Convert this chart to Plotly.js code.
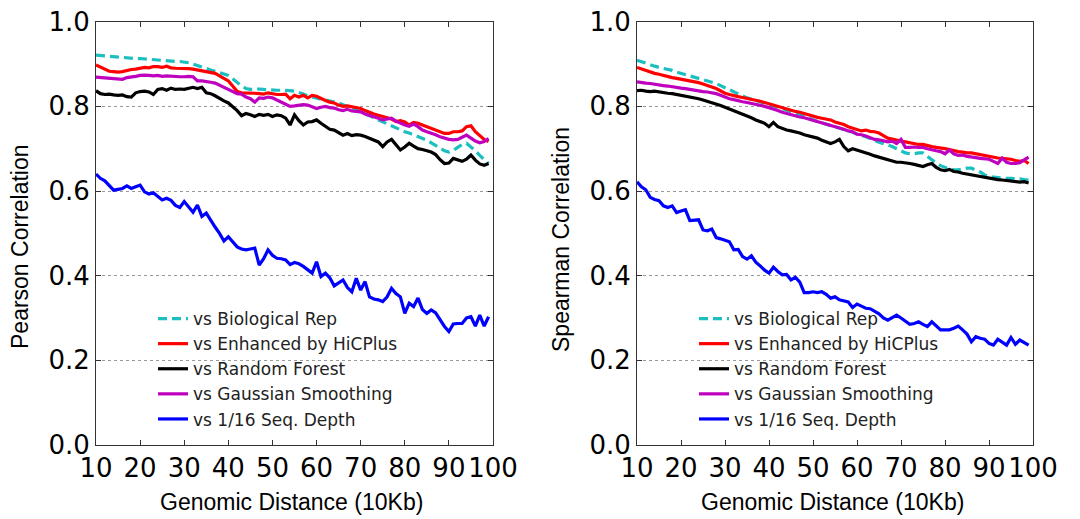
<!DOCTYPE html>
<html>
<head>
<meta charset="utf-8">
<script src="https://cdn.plot.ly/plotly-3.0.1.min.js"></script>
<style>
html,body{margin:0;padding:0;background:#fff;}
#chart{width:1080px;height:519px;}
</style>
</head>
<body>
<div id="chart"></div>
<script>
const distance = [10,11,12,13,14,15,16,17,18,19,20,21,22,23,24,25,26,27,28,29,30,31,32,33,34,35,36,37,38,39,40,41,42,43,44,45,46,47,48,49,50,51,52,53,54,55,56,57,58,59,60,61,62,63,64,65,66,67,68,69,70,71,72,73,74,75,76,77,78,79,80,81,82,83,84,85,86,87,88,89,90,91,92,93,94,95,96,97,98,99];

const seriesNames = ["vs Biological Rep","vs Enhanced by HiCPlus","vs Random Forest","vs Gaussian Smoothing","vs 1/16 Seq. Depth"];

// Pearson correlation (left panel)
const pearsonBio = [0.921,0.920,0.919,0.918,0.917,0.916,0.915,0.914,0.913,0.913,0.913,0.912,0.911,0.910,0.909,0.908,0.908,0.907,0.906,0.906,0.905,0.903,0.900,0.896,0.893,0.890,0.886,0.883,0.880,0.877,0.873,0.865,0.856,0.848,0.842,0.840,0.840,0.841,0.840,0.839,0.839,0.838,0.838,0.838,0.837,0.836,0.833,0.829,0.825,0.822,0.819,0.817,0.815,0.813,0.811,0.808,0.804,0.800,0.796,0.791,0.787,0.783,0.778,0.773,0.768,0.764,0.760,0.755,0.750,0.745,0.740,0.737,0.733,0.729,0.725,0.720,0.714,0.708,0.702,0.695,0.692,0.696,0.703,0.710,0.713,0.705,0.695,0.684,0.674,0.665];
const pearsonHiCPlus = [0.898,0.893,0.887,0.883,0.882,0.881,0.882,0.885,0.887,0.888,0.890,0.892,0.891,0.894,0.894,0.892,0.895,0.891,0.890,0.890,0.889,0.889,0.888,0.886,0.884,0.882,0.881,0.878,0.872,0.866,0.860,0.848,0.835,0.832,0.832,0.831,0.831,0.830,0.829,0.832,0.830,0.828,0.828,0.829,0.818,0.826,0.822,0.826,0.820,0.826,0.824,0.818,0.814,0.810,0.808,0.803,0.800,0.801,0.799,0.796,0.795,0.790,0.785,0.782,0.779,0.776,0.772,0.770,0.764,0.766,0.763,0.756,0.762,0.760,0.756,0.752,0.748,0.745,0.741,0.736,0.736,0.740,0.740,0.742,0.752,0.754,0.740,0.730,0.722,0.717];
const pearsonRF = [0.837,0.830,0.828,0.829,0.827,0.826,0.827,0.823,0.822,0.832,0.835,0.836,0.834,0.828,0.840,0.842,0.838,0.843,0.840,0.841,0.840,0.843,0.845,0.842,0.845,0.832,0.830,0.825,0.818,0.813,0.808,0.800,0.790,0.778,0.783,0.780,0.776,0.781,0.779,0.781,0.776,0.780,0.778,0.772,0.756,0.780,0.766,0.756,0.763,0.764,0.768,0.760,0.752,0.746,0.744,0.738,0.732,0.736,0.731,0.733,0.732,0.729,0.724,0.720,0.716,0.705,0.716,0.722,0.708,0.697,0.704,0.713,0.706,0.700,0.698,0.695,0.692,0.686,0.674,0.665,0.666,0.677,0.673,0.670,0.675,0.685,0.673,0.664,0.661,0.665];
const pearsonGauss = [0.869,0.868,0.868,0.867,0.866,0.865,0.864,0.868,0.869,0.871,0.873,0.874,0.873,0.872,0.873,0.871,0.872,0.871,0.871,0.870,0.870,0.871,0.870,0.860,0.860,0.859,0.857,0.855,0.850,0.845,0.840,0.836,0.830,0.829,0.822,0.818,0.810,0.820,0.819,0.822,0.820,0.815,0.810,0.804,0.800,0.801,0.802,0.804,0.803,0.799,0.795,0.798,0.800,0.797,0.796,0.792,0.790,0.793,0.789,0.788,0.787,0.782,0.779,0.776,0.772,0.768,0.770,0.772,0.765,0.760,0.756,0.753,0.758,0.752,0.744,0.740,0.737,0.733,0.728,0.725,0.722,0.721,0.722,0.727,0.732,0.725,0.718,0.714,0.717,0.724];
const pearsonLow = [0.640,0.630,0.624,0.612,0.602,0.604,0.606,0.612,0.606,0.610,0.614,0.598,0.593,0.596,0.588,0.579,0.583,0.578,0.566,0.561,0.575,0.562,0.550,0.567,0.540,0.548,0.530,0.515,0.500,0.482,0.492,0.480,0.468,0.463,0.461,0.463,0.465,0.425,0.440,0.461,0.448,0.441,0.440,0.437,0.426,0.431,0.428,0.422,0.414,0.406,0.433,0.398,0.406,0.395,0.376,0.383,0.390,0.372,0.362,0.394,0.366,0.386,0.350,0.345,0.343,0.339,0.350,0.370,0.358,0.350,0.311,0.335,0.327,0.347,0.320,0.311,0.319,0.312,0.295,0.280,0.268,0.286,0.287,0.287,0.300,0.303,0.281,0.307,0.281,0.303];

// Spearman correlation (right panel)
const spearmanBio = [0.909,0.905,0.901,0.898,0.895,0.892,0.890,0.887,0.885,0.881,0.878,0.876,0.873,0.870,0.867,0.864,0.861,0.858,0.854,0.849,0.844,0.839,0.834,0.829,0.824,0.820,0.817,0.814,0.810,0.807,0.804,0.801,0.798,0.795,0.791,0.788,0.785,0.781,0.777,0.772,0.768,0.764,0.761,0.758,0.755,0.751,0.748,0.745,0.742,0.739,0.735,0.732,0.728,0.724,0.719,0.715,0.712,0.709,0.705,0.700,0.694,0.690,0.688,0.688,0.690,0.690,0.682,0.673,0.666,0.660,0.656,0.652,0.650,0.650,0.652,0.654,0.654,0.650,0.645,0.638,0.634,0.633,0.632,0.630,0.630,0.630,0.630,0.629,0.627,0.626];
const spearmanHiCPlus = [0.892,0.888,0.884,0.880,0.878,0.876,0.873,0.870,0.868,0.866,0.864,0.862,0.860,0.859,0.856,0.853,0.850,0.846,0.842,0.836,0.831,0.828,0.825,0.823,0.821,0.819,0.817,0.815,0.812,0.809,0.806,0.803,0.800,0.796,0.793,0.790,0.788,0.786,0.783,0.779,0.776,0.774,0.772,0.770,0.768,0.763,0.760,0.757,0.752,0.748,0.745,0.742,0.744,0.741,0.740,0.737,0.731,0.725,0.723,0.720,0.718,0.716,0.714,0.712,0.710,0.710,0.707,0.705,0.703,0.702,0.700,0.698,0.695,0.693,0.692,0.690,0.690,0.688,0.685,0.683,0.681,0.680,0.678,0.677,0.676,0.675,0.672,0.670,0.672,0.665];
const spearmanRF = [0.837,0.838,0.836,0.835,0.836,0.834,0.833,0.831,0.830,0.828,0.826,0.825,0.822,0.820,0.818,0.815,0.812,0.809,0.806,0.802,0.798,0.794,0.790,0.786,0.781,0.777,0.773,0.768,0.764,0.760,0.752,0.762,0.752,0.747,0.744,0.742,0.740,0.737,0.733,0.730,0.728,0.725,0.720,0.715,0.712,0.716,0.722,0.705,0.695,0.700,0.697,0.694,0.690,0.687,0.683,0.680,0.677,0.674,0.670,0.668,0.668,0.667,0.665,0.663,0.660,0.658,0.662,0.665,0.656,0.650,0.648,0.651,0.646,0.645,0.642,0.640,0.638,0.636,0.634,0.632,0.630,0.629,0.627,0.626,0.625,0.623,0.622,0.621,0.622,0.619];
const spearmanGauss = [0.858,0.856,0.855,0.854,0.852,0.851,0.849,0.848,0.846,0.844,0.843,0.842,0.840,0.838,0.837,0.835,0.834,0.832,0.830,0.826,0.821,0.818,0.816,0.813,0.811,0.809,0.807,0.805,0.802,0.800,0.797,0.794,0.790,0.786,0.783,0.780,0.777,0.775,0.773,0.770,0.768,0.765,0.762,0.759,0.756,0.753,0.750,0.746,0.742,0.740,0.734,0.733,0.730,0.726,0.722,0.721,0.718,0.716,0.718,0.712,0.722,0.703,0.703,0.704,0.703,0.703,0.700,0.697,0.695,0.693,0.688,0.697,0.688,0.684,0.685,0.682,0.681,0.679,0.677,0.676,0.675,0.670,0.665,0.678,0.668,0.665,0.665,0.667,0.673,0.680];
const spearmanLow = [0.622,0.610,0.603,0.585,0.580,0.577,0.565,0.561,0.565,0.549,0.553,0.556,0.530,0.531,0.532,0.508,0.506,0.510,0.490,0.487,0.484,0.480,0.461,0.462,0.445,0.439,0.447,0.432,0.423,0.413,0.406,0.420,0.410,0.402,0.403,0.390,0.396,0.385,0.360,0.360,0.362,0.360,0.362,0.356,0.347,0.350,0.343,0.341,0.338,0.325,0.333,0.328,0.323,0.322,0.315,0.310,0.300,0.295,0.301,0.307,0.300,0.293,0.285,0.287,0.291,0.285,0.280,0.291,0.281,0.272,0.272,0.272,0.276,0.281,0.272,0.262,0.244,0.256,0.252,0.250,0.240,0.236,0.250,0.242,0.236,0.254,0.238,0.248,0.242,0.236];

const xTicks = [10,20,30,40,50,60,70,80,90,100];
const yTicks = [0.0,0.2,0.4,0.6,0.8,1.0];
const xTitle = "Genomic Distance (10Kb)";
const yTitleLeft = "Pearson Correlation";
const yTitleRight = "Spearman Correlation";

const styles = [
  {color:"#1CBFBF", dash:"9px,5px"},
  {color:"#FF0000", dash:"solid"},
  {color:"#000000", dash:"solid"},
  {color:"#BF00BF", dash:"solid"},
  {color:"#0000FF", dash:"solid"}
];

const leftSeries = [pearsonBio, pearsonHiCPlus, pearsonRF, pearsonGauss, pearsonLow];
const rightSeries = [spearmanBio, spearmanHiCPlus, spearmanRF, spearmanGauss, spearmanLow];

const traces = [];
leftSeries.forEach((ys, i) => {
  traces.push({x: distance, y: ys, type: "scatter", mode: "lines", name: seriesNames[i],
    line: {color: styles[i].color, width: 3.2, dash: styles[i].dash},
    xaxis: "x", yaxis: "y", legend: "legend"});
});
rightSeries.forEach((ys, i) => {
  traces.push({x: distance, y: ys, type: "scatter", mode: "lines", name: seriesNames[i],
    line: {color: styles[i].color, width: 3.2, dash: styles[i].dash},
    xaxis: "x2", yaxis: "y2", legend: "legend2"});
});

const tickFont = {family: "DejaVu Sans", size: 26, color: "#000"};
const titleFont = {family: "Liberation Sans, Arial, sans-serif", size: 23, color: "#000"};

function xAxis(domain, anchor) {
  return {
    domain: domain, anchor: anchor, range: [10, 100], tickvals: xTicks,
    ticktext: xTicks.map(String),
    ticks: "inside", ticklen: 5, tickcolor: "#333", tickwidth: 1,
    showline: true, linecolor: "#333", linewidth: 1, mirror: "ticks",
    showgrid: false, zeroline: false, tickfont: tickFont
  };
}
function yAxis(domain, anchor) {
  return {
    domain: domain, anchor: anchor, range: [0, 1], tickvals: yTicks,
    ticktext: yTicks.map(v => v.toFixed(1)),
    ticks: "inside", ticklen: 5, tickcolor: "#333", tickwidth: 1,
    showline: true, linecolor: "#333", linewidth: 1, mirror: "ticks",
    showgrid: true, gridcolor: "#999", gridwidth: 1, griddash: "dot",
    zeroline: false, tickfont: tickFont
  };
}

const legendCommon = {
  bgcolor: "rgba(0,0,0,0)", borderwidth: 0,
  font: {family: "DejaVu Sans", size: 17, color: "#222"},
  xanchor: "left", yanchor: "top", itemwidth: 30, tracegroupgap: 0
};

function titleAnn(text, x, y, angle) {
  return {text: text, xref: "paper", yref: "paper", x: x / 1080, y: (519 - y) / 519,
    xanchor: "center", yanchor: "middle", showarrow: false, textangle: angle,
    font: titleFont};
}

const layout = {
  width: 1080, height: 519,
  margin: {l: 0, r: 0, t: 0, b: 0},
  paper_bgcolor: "#fff", plot_bgcolor: "#fff",
  showlegend: true,
  xaxis: xAxis([96/1080, 493/1080], "y"),
  yaxis: yAxis([74/519, 497.3/519], "x"),
  xaxis2: xAxis([637/1080, 1033/1080], "y2"),
  yaxis2: yAxis([74/519, 497.3/519], "x2"),
  legend: Object.assign({}, legendCommon, {x: 153/1080, y: (519-301)/519}),
  legend2: Object.assign({}, legendCommon, {x: 694/1080, y: (519-301)/519}),
  annotations: [
    titleAnn(xTitle, 291, 502, 0),
    titleAnn(xTitle, 832, 502, 0),
    titleAnn(yTitleLeft, 20, 247, -90),
    titleAnn(yTitleRight, 561, 240, -90)
  ]
};

Plotly.newPlot("chart", traces, layout, {displayModeBar: false, staticPlot: true});
</script>
</body>
</html>
